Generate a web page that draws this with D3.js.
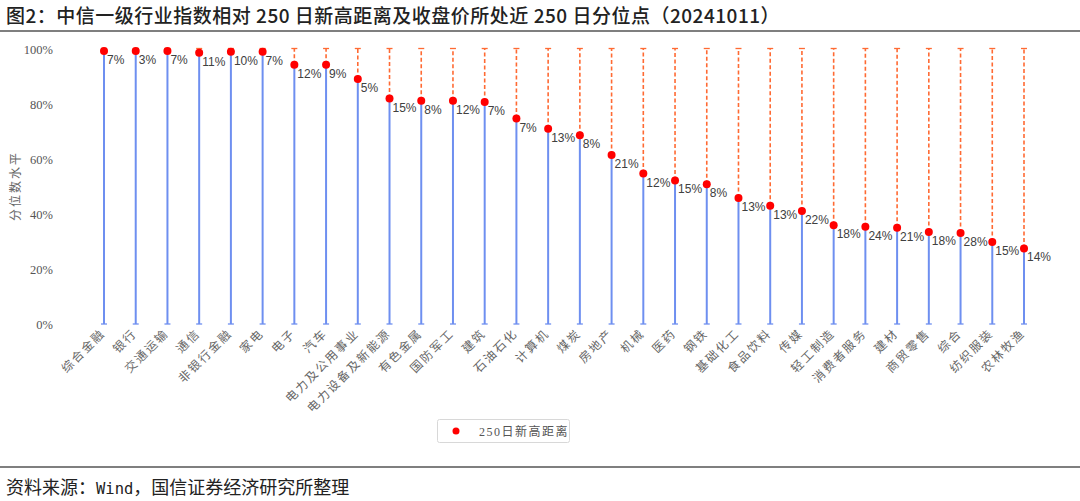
<!DOCTYPE html>
<html><head><meta charset="utf-8">
<script src="https://cdn.jsdelivr.net/npm/d3@7/dist/d3.min.js"></script>
<style>
body{margin:0;background:#fff;}
svg{display:block;}
</style></head>
<body><svg id="c" width="1080" height="501"></svg>
<script>
const categories = ["综合金融","银行","交通运输","通信","非银行金融","家电","电子","汽车","电力及公用事业","电力设备及新能源","有色金属","国防军工","建筑","石油石化","计算机","煤炭","房地产","机械","医药","钢铁","基础化工","食品饮料","传媒","轻工制造","消费者服务","建材","商贸零售","综合","纺织服装","农林牧渔"];
const percentile = [0.993,0.993,0.993,0.986,0.99,0.99,0.943,0.943,0.891,0.82,0.812,0.812,0.807,0.747,0.71,0.686,0.615,0.547,0.522,0.508,0.458,0.43,0.411,0.359,0.354,0.35,0.335,0.331,0.298,0.275];
const distLabels = ["7%","3%","7%","11%","10%","7%","12%","9%","5%","15%","8%","12%","7%","7%","13%","8%","21%","12%","15%","8%","13%","13%","22%","18%","24%","21%","18%","28%","15%","14%"];
const yTicks = [0,0.2,0.4,0.6,0.8,1.0];
const legendLabel = "250日新高距离";
const titleText = "图2：中信一级行业指数相对 250 日新高距离及收盘价所处近 250 日分位点（20241011）";
const sourceParts = ["资料来源：","Wind","，国信证券经济研究所整理"];

const svg = d3.select("#c");
const serif = "'Liberation Serif','Noto Sans CJK SC',serif";
const sans = "'Liberation Sans','Noto Sans CJK SC',sans-serif";
const cjk = "'Noto Sans CJK SC',sans-serif";

// title
svg.append("text").attr("x",6).attr("y",23).attr("font-family",cjk)
  .attr("font-size",19).attr("font-weight",500).attr("letter-spacing",0.5).attr("fill","#222").text(titleText);
svg.append("line").attr("x1",0).attr("x2",1080).attr("y1",31).attr("y2",31).attr("stroke","#555").attr("stroke-width",1.3);
svg.append("line").attr("x1",0).attr("x2",1080).attr("y1",467).attr("y2",467).attr("stroke","#555").attr("stroke-width",1.3);
const src = svg.append("text").attr("x",6).attr("y",494).attr("font-family",cjk)
  .attr("font-size",18).attr("fill","#222");
src.append("tspan").text(sourceParts[0]);
src.append("tspan").attr("font-family","'DejaVu Sans Mono',monospace").attr("font-size",15.5).text(sourceParts[1]);
src.append("tspan").text(sourceParts[2]);

const x = d3.scalePoint().domain(categories).range([104,1024]);
const y = d3.scaleLinear().domain([0,1]).range([324,49]);

// y axis
const yAxis = d3.axisLeft(y).tickValues(yTicks).tickFormat(d3.format(".0%")).tickSize(0).tickPadding(0);
const yg = svg.append("g").attr("transform","translate(53,0)").call(yAxis);
yg.select(".domain").remove();
yg.selectAll("text").attr("font-family",serif).attr("font-size",12.5).attr("fill","#555");

svg.append("text").attr("transform","translate(20,186) rotate(-90)").attr("text-anchor","middle")
  .attr("font-family",cjk).attr("font-size",12).attr("fill","#666")
  .attr("letter-spacing",2).text("分位数水平");

const blue = "#6e8ff0", orange = "#ff6a33";
const g = svg.append("g");
const rows = categories.map((c,i)=>({c, v:percentile[i], lab:distLabels[i]}));

// orange dashed upper
g.selectAll(".up").data(rows).join("line")
  .attr("x1",d=>x(d.c)).attr("x2",d=>x(d.c)).attr("y1",d=>y(d.v)).attr("y2",y(1))
  .attr("stroke",orange).attr("stroke-width",1.6).attr("stroke-dasharray","4,2.5");
g.selectAll(".upcap").data(rows).join("line")
  .attr("x1",d=>x(d.c)-3).attr("x2",d=>x(d.c)+3).attr("y1",y(1)-0.5).attr("y2",y(1)-0.5)
  .attr("stroke",orange).attr("stroke-width",1.3);
// blue lower
g.selectAll(".lo").data(rows).join("line")
  .attr("x1",d=>x(d.c)).attr("x2",d=>x(d.c)).attr("y1",d=>y(d.v)).attr("y2",y(0))
  .attr("stroke",blue).attr("stroke-width",2);
g.selectAll(".locap").data(rows).join("line")
  .attr("x1",d=>x(d.c)-3).attr("x2",d=>x(d.c)+3).attr("y1",y(0)).attr("y2",y(0))
  .attr("stroke",blue).attr("stroke-width",1.3);
// dots
g.selectAll("circle").data(rows).join("circle")
  .attr("cx",d=>x(d.c)).attr("cy",d=>y(d.v)).attr("r",4).attr("fill","#ff0000");
// labels
g.selectAll(".lab").data(rows).join("text")
  .attr("x",d=>x(d.c)+3).attr("y",d=>y(d.v)+13)
  .attr("font-family",sans).attr("font-size",12).attr("fill","#404040").text(d=>d.lab);

// x labels
const xg = svg.append("g");
xg.selectAll("text").data(categories).join("text")
  .attr("transform",d=>`translate(${x(d)+2},${334}) rotate(-45)`)
  .attr("text-anchor","end").attr("font-family",cjk)
  .attr("font-size",12).attr("fill","#666").attr("letter-spacing",2).text(d=>d);

// legend
const lg = svg.append("g");
lg.append("rect").attr("x",437.5).attr("y",419.5).attr("width",132).attr("height",23).attr("rx",2)
  .attr("fill","#fff").attr("stroke","#d8d8d8");
lg.append("circle").attr("cx",456).attr("cy",431).attr("r",3.5).attr("fill","#ff0000");
lg.append("text").attr("x",479).attr("y",435.5).attr("font-family",serif).attr("font-size",12)
  .attr("fill","#555").attr("letter-spacing",1.5).text(legendLabel);
</script></body></html>
